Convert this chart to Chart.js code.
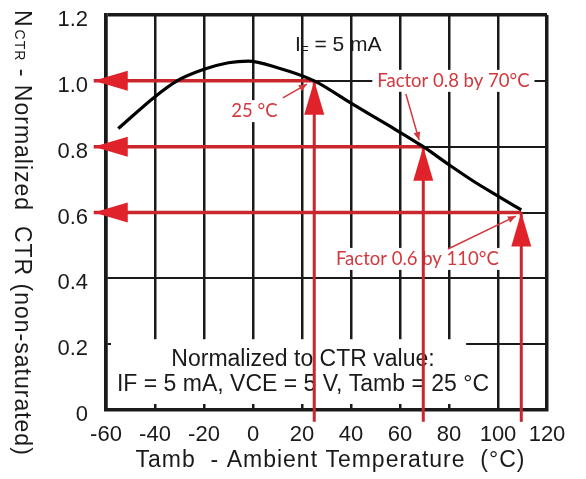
<!DOCTYPE html>
<html>
<head>
<meta charset="utf-8">
<script src="https://cdn.jsdelivr.net/npm/chart.js@4/dist/chart.umd.min.js"></script>
<style>
html, body { margin: 0; padding: 0; background: #fff; }
#contenedor { width: 586px; height: 479px; }
</style>
</head>
<body>
<div id="contenedor"><canvas id="graficoCTR"></canvas></div>
<script>
// datos
const temperaturas = [-55, -40, -31, -20, -10, -2, 10, 25, 40, 55, 69.5, 80, 90, 100, 109.5];
const ctrNormalizado = [0.855, 0.952, 1.0, 1.035, 1.055, 1.06, 1.04, 1.0, 0.932, 0.866, 0.8, 0.745, 0.695, 0.65, 0.608];
const ticksX = [-60, -40, -20, 0, 20, 40, 60, 80, 100, 120];
const ticksY = [0, 0.2, 0.4, 0.6, 0.8, 1.0, 1.2];

// flechas rojas: nivel de CTR y temperatura donde tocan la curva
const nivelesCTR = [1.0, 0.8, 0.6];
const tempsNivel = [25, 69.5, 109.5];
const puntaFlechaX = -65;
const baseFlechaY = -0.036;

// anotaciones (en unidades del grafico)
const textosRojos = ['25 °C', 'Factor 0.8 by 70°C', 'Factor 0.6 by 110°C'];
const textosRojosX = [0.6, 81.8, 67.1];
const textosRojosY = [0.908, 1.0, 0.459];
const punterosDesde = [[12.2, 0.948], [62.4, 0.96], [79.6, 0.489]];
const punterosHasta = [[22, 0.99], [67.8, 0.82], [107.3, 0.589]];
const notaLineas = ['Normalized to CTR value:', 'IF = 5 mA, VCE = 5 V, Tamb = 25 °C'];
const notaX = 20.4;
const notaY = [0.152, 0.076];
const etiquetaIF = { x: 17.1, y: 1.109 };

const rojoFlecha = '#c9262d';
const rojoTexto = '#d2383e';
const negro = '#1a1a1a';
const fuenteNegra = '"Liberation Sans", Arial, sans-serif';

let datasets = [{
    data: temperaturas.map((t, i) => ({ x: t, y: ctrNormalizado[i] })),
    borderColor: '#000',
    borderWidth: 3.2,
    pointRadius: 0,
    tension: 0.4,
    cubicInterpolationMode: 'monotone'
}];

nivelesCTR.forEach((nivel, i) => {
    datasets.push({
        data: [{ x: tempsNivel[i], y: nivel }, { x: puntaFlechaX, y: nivel }],
        borderColor: rojoFlecha, borderWidth: 3.5, pointRadius: 0, clip: false, flecha: true
    });
    datasets.push({
        data: [{ x: tempsNivel[i], y: baseFlechaY }, { x: tempsNivel[i], y: nivel }],
        borderColor: rojoFlecha, borderWidth: 3, pointRadius: 0, clip: false, flecha: true
    });
});

function puntaDeFlecha(ctx, desde, hasta, largo, ancho, color){
    const ang = Math.atan2(hasta.y - desde.y, hasta.x - desde.x);
    const bx = hasta.x - largo * Math.cos(ang);
    const by = hasta.y - largo * Math.sin(ang);
    ctx.beginPath();
    ctx.moveTo(hasta.x, hasta.y);
    ctx.lineTo(bx - ancho * Math.sin(ang), by + ancho * Math.cos(ang));
    ctx.lineTo(bx + ancho * Math.sin(ang), by - ancho * Math.cos(ang));
    ctx.closePath();
    ctx.fillStyle = color;
    ctx.fill();
}

const pluginAnotaciones = {
    id: 'anotaciones',
    beforeDatasetsDraw(chart){
        const { ctx, scales: { x, y } } = chart;
        ctx.save();
        // la caja de la nota tapa la rejilla
        const izq = x.getPixelForValue(-60) + 5;
        const arriba = y.getPixelForValue(0.215);
        ctx.fillStyle = '#fff';
        ctx.fillRect(izq, arriba, x.getPixelForValue(87) - izq, y.getPixelForValue(0) - 6 - arriba);

        ctx.fillStyle = negro;
        ctx.textAlign = 'center';
        ctx.textBaseline = 'middle';
        ctx.font = '23px ' + fuenteNegra;
        notaLineas.forEach((t, i) => ctx.fillText(t, x.getPixelForValue(notaX), y.getPixelForValue(notaY[i])));

        // I_F = 5 mA
        let px = x.getPixelForValue(etiquetaIF.x);
        const py = y.getPixelForValue(etiquetaIF.y);
        ctx.textAlign = 'left';
        ctx.font = '21px ' + fuenteNegra;
        ctx.fillText('I', px, py);
        px += ctx.measureText('I').width;
        ctx.font = '13px ' + fuenteNegra;
        ctx.fillText('F', px, py + 6);
        px += ctx.measureText('F').width;
        ctx.font = '21px ' + fuenteNegra;
        ctx.fillText(' = 5 mA', px, py);

        // textos rojos con fondo blanco
        ctx.textAlign = 'center';
        ctx.font = '18.5px Lato, sans-serif';
        textosRojos.forEach((t, i) => {
            const tx = x.getPixelForValue(textosRojosX[i]);
            const ty = y.getPixelForValue(textosRojosY[i]);
            const w = ctx.measureText(t).width;
            ctx.fillStyle = '#fff';
            ctx.fillRect(tx - w / 2 - 5, ty - 11, w + 10, 22);
            ctx.fillStyle = rojoTexto;
            ctx.fillText(t, tx, ty);
        });

        // punteros finos
        ctx.strokeStyle = rojoTexto;
        ctx.lineWidth = 1.5;
        punterosDesde.forEach((d, i) => {
            const a = { x: x.getPixelForValue(d[0]), y: y.getPixelForValue(d[1]) };
            const b = { x: x.getPixelForValue(punterosHasta[i][0]), y: y.getPixelForValue(punterosHasta[i][1]) };
            ctx.beginPath();
            ctx.moveTo(a.x, a.y);
            ctx.lineTo(b.x, b.y);
            ctx.stroke();
            puntaDeFlecha(ctx, a, b, 8, 3.5, rojoTexto);
        });
        ctx.restore();
    },
    afterDatasetDraw(chart, args){
        const ds = chart.data.datasets[args.index];
        if (!ds.flecha) return;
        const pts = args.meta.data;
        const ctx = chart.ctx;
        ctx.save();
        puntaDeFlecha(ctx, pts[pts.length - 2], pts[pts.length - 1], 34, 10, '#e0222a');
        ctx.restore();
    },
    afterDraw(chart){
        const { ctx, chartArea } = chart;
        ctx.save();
        ctx.fillStyle = negro;
        ctx.letterSpacing = '1px';
        ctx.textBaseline = 'middle';
        ctx.textAlign = 'center';
        ctx.font = '23px ' + fuenteNegra;
        ctx.fillText('Tamb  - Ambient Temperature  (°C)', (chartArea.left + chartArea.right) / 2 + 4, 461);

        // titulo del eje Y, girado en sentido horario
        ctx.translate(15, 10);
        ctx.rotate(Math.PI / 2);
        ctx.textAlign = 'left';
        ctx.textBaseline = 'alphabetic';
        let u = 0;
        ctx.font = '23px ' + fuenteNegra;
        ctx.fillText('N', u, 0);
        u += ctx.measureText('N').width + 2;
        ctx.font = '14px ' + fuenteNegra;
        ctx.fillText('CTR', u, 0);
        u += ctx.measureText('CTR').width;
        ctx.font = '23px ' + fuenteNegra;
        ctx.fillText(' - Normalized  CTR (non-saturated)', u, 0);
        ctx.restore();
    }
};

new Chart(document.getElementById('graficoCTR'), {
    type: 'line',
    data: { datasets: datasets },
    options: {
        responsive: true,
        maintainAspectRatio: false,
        animation: false,
        layout: { padding: { left: 0, top: 15, right: 39, bottom: 0 } },
        plugins: { legend: { display: false }, tooltip: { enabled: false } },
        scales: {
            x: {
                type: 'linear', min: -60, max: 120,
                afterBuildTicks: s => { s.ticks = ticksX.map(v => ({ value: v })); },
                afterFit: s => { s.height = 69; s.paddingLeft = 0; s.paddingRight = 0; },
                grid: { color: negro, lineWidth: c => c.tick && c.tick.value === 120 ? 3.5 : 2.5, drawTicks: false },
                border: { color: negro, width: 3.5 },
                ticks: { color: negro, padding: 12, font: { size: 22, family: fuenteNegra } }
            },
            y: {
                min: 0, max: 1.2,
                afterBuildTicks: s => { s.ticks = ticksY.map(v => ({ value: v })); },
                afterFit: s => { s.width = 106; s.paddingTop = 0; s.paddingBottom = 0; },
                grid: { color: negro, lineWidth: c => c.tick && c.tick.value === 1.2 ? 3.5 : 2, drawTicks: false },
                border: { color: negro, width: 3.5 },
                ticks: {
                    color: negro, padding: 18, labelOffset: 5,
                    font: { size: 22, family: fuenteNegra },
                    callback: v => v === 0 ? '0' : v.toFixed(1)
                }
            }
        }
    },
    plugins: [pluginAnotaciones]
});
</script>
</body>
</html>
